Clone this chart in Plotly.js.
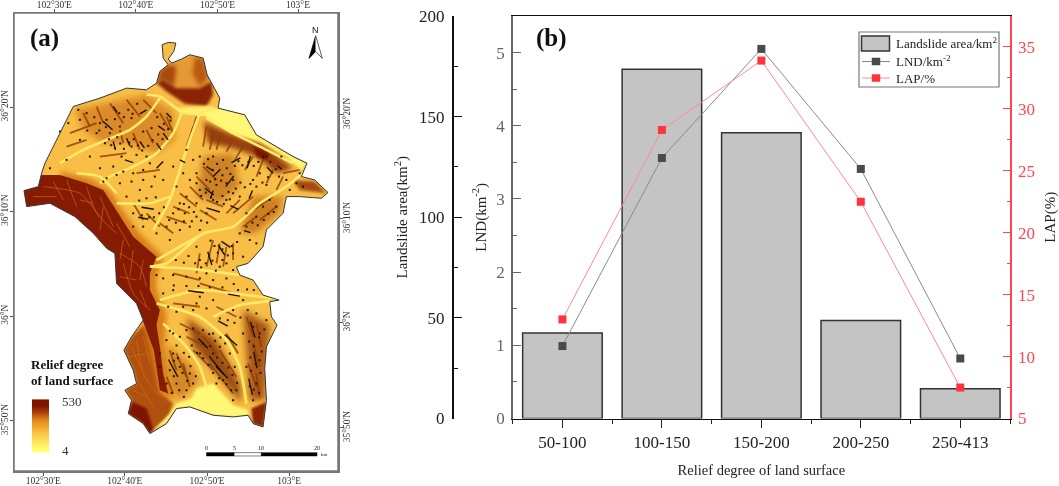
<!DOCTYPE html>
<html><head><meta charset="utf-8">
<script src="https://cdn.plot.ly/plotly-3.0.1.min.js"></script>
<style>html,body{margin:0;padding:0;background:#fff;overflow:hidden}#c{width:1059px;height:486px;filter:blur(0.35px)}</style>
</head><body><div id="c"></div>
<script>
// ---------- panel (b) data ----------
const categories=['50-100','100-150','150-200','200-250','250-413'];
const landslideArea=[42.5,173.5,142,48.7,14.8];
const lnd=[0.99,3.56,5.05,3.41,0.82];
const lap=[13.0,28.3,33.9,22.5,7.5];

// ---------- panel (a) map data, in projected map units (frame 42..1015 by 40..1412) ----------
const outline=[[487,135],[505,128],[528,130],[522,155],[505,178],[516,190],[545,178],[570,165],[610,175],[622,225],[640,258],[660,295],[655,325],[700,335],[735,345],[770,405],[830,440],[880,470],[922,490],[905,530],[945,540],[985,578],[965,595],[900,590],[860,590],[850,640],[800,690],[790,740],[745,790],[710,800],[720,825],[760,840],[790,885],[838,900],[810,905],[815,950],[832,975],[800,1040],[795,1105],[800,1200],[790,1280],[760,1270],[745,1245],[700,1250],[640,1245],[570,1220],[530,1225],[500,1270],[450,1300],[430,1270],[385,1240],[395,1200],[375,1170],[410,1150],[400,1110],[372,1050],[395,1010],[430,960],[410,910],[350,850],[345,760],[320,745],[280,700],[225,650],[150,610],[80,620],[72,572],[115,560],[125,520],[135,490],[180,400],[220,320],[300,295],[380,265],[440,270],[470,250],[480,215],[505,195],[490,175],[487,135]];
const outsideMask=[[42,40],[42,1190],[160,1190],[160,1412],[1015,1412],[1015,40],[42,40]];
const plainNE=[[600,338],[655,325],[700,335],[735,345],[770,405],[830,440],[880,470],[922,490],[905,510],[860,470],[780,425],[700,400],[640,365]];
const plainS=[[590,1165],[640,1150],[700,1215],[745,1230],[745,1245],[700,1250],[640,1245],[570,1220],[530,1225],[500,1270],[450,1300],[470,1280],[510,1240],[530,1210],[575,1195]];
const plainN=[[530,325],[625,318],[655,325],[600,345],[545,340]];
const scarpFringe=[[180,515],[270,535],[330,570],[375,640],[420,700],[490,770],[470,830],[470,870],[500,940],[495,1040],[510,1130],[525,1200],[480,1180],[440,1000],[400,900],[340,760],[200,600]];
const scarp=[[115,525],[180,525],[260,550],[310,570],[355,640],[400,710],[470,770],[450,820],[450,870],[480,930],[470,975],[480,1040],[490,1120],[505,1180],[480,1170],[462,1050],[430,965],[410,910],[350,850],[345,760],[320,745],[280,700],[225,650],[150,610],[80,620],[72,572],[115,560]];
const southwest=[[430,975],[462,1000],[480,1170],[520,1210],[500,1270],[450,1300],[430,1270],[385,1240],[395,1200],[375,1170],[410,1150],[400,1110],[372,1050],[395,1010]];
const southwestDark=[[385,1240],[398,1205],[440,1225],[462,1290],[450,1300],[430,1270]];
const southeastDark=[[755,1225],[800,1205],[790,1280],[760,1270]];
const summit=[[470,250],[490,240],[530,265],[600,265],[635,245],[640,285],[620,320],[555,312],[500,275]];
const summitTop=[[480,215],[505,195],[545,178],[570,165],[610,175],[622,225],[635,245],[600,265],[530,265],[490,240],[470,250]];
const summitLeft=[[470,250],[480,215],[505,195],[530,200],[522,262],[490,240]];
const summitRight=[[585,170],[612,178],[625,235],[600,262],[578,222]];
const ridgeNE=[[610,365],[700,405],[790,435],[880,505],[830,520],[770,470],[700,445],[625,430]];
const ridgeNE2=[[760,440],[810,460],[800,480],[770,470]];
const ridgeEast=[[880,540],[945,545],[980,580],[900,570]];
const ridgeCentre=[[610,470],[700,460],[720,560],[660,610],[590,590]];
const ridgeEast2=[[760,590],[850,590],[840,640],[770,700],[720,700]];
const ridgeSouth=[[560,950],[650,1020],[720,1150],[725,1210],[650,1120],[580,1040]];
const ridgeSE=[[730,930],[810,975],[795,1200],[750,1200],[740,1060]];
const ridgeNW=[[225,330],[440,285],[520,335],[525,420],[470,460],[380,430],[310,430],[250,390]];
const ridgeSW2=[[500,1030],[570,1090],[600,1140],[540,1200],[510,1160]];
const valleys=[
 [[600,340],[570,420],[540,510],[510,600],[460,690]],
 [[545,340],[520,400],[470,460],[400,500],[330,530],[300,550]],
 [[480,295],[440,350],[390,390],[320,420],[250,450],[180,490]],
 [[920,510],[860,560],[780,610],[700,680],[610,700],[550,750],[500,790],[450,800]],
 [[470,910],[600,950],[680,1020],[720,1100],[740,1210]],
 [[490,970],[560,1040],[600,1100],[620,1160]],
 [[480,900],[600,870],[700,880],[838,897]],
 [[640,950],[720,915],[810,903]],
 [[450,800],[560,805],[720,825]],
 [[610,345],[545,335],[480,290],[440,285]],
 [[350,610],[450,610],[510,590]],
 [[620,355],[700,400],[800,450],[880,490]],
 [[470,780],[610,700]],
 [[350,580],[300,530],[230,520]]
];
const scarpVeins=[[[130,560],[240,580],[300,650]],[[260,560],[290,640],[350,700]],[[200,540],[230,620]],[[360,760],[420,800],[440,860]],[[370,790],[400,880],[450,930]],[[410,1020],[430,1120],[470,1180]],[[385,1070],[440,1060]],[[300,590],[340,680]],[[100,590],[170,590]],[[160,545],[190,600]],[[240,600],[280,610]],[[310,620],[300,690]],[[350,670],[390,740]],[[370,720],[360,780]],[[400,750],[390,830]],[[430,780],[420,840]],[[360,830],[410,840]],[[420,870],[440,920]],[[395,1040],[420,1100]],[[430,1010],[450,1090]],[[420,1150],[460,1220]],[[400,1170],[440,1190]]];
const streaks=[[[250,340],[270,380]],[[290,320],[310,370]],[[330,310],[370,370]],[[380,300],[420,350]],[[430,300],[470,340]],[[360,390],[370,430]],[[400,400],[420,450]],[[440,390],[460,430]],[[480,340],[510,390]],[[500,350],[520,400]],[[580,380],[560,440]],[[590,350],[575,400]],[[620,380],[610,440]],[[640,400],[630,450]],[[660,410],[650,450]],[[700,420],[680,455]],[[730,440],[705,480]],[[760,470],[735,510]],[[790,480],[770,530]],[[820,510],[800,550]],[[850,530],[830,570]],[[610,500],[650,540]],[[590,530],[630,570]],[[570,560],[610,600]],[[540,580],[590,620]],[[520,620],[570,640]],[[500,650],[560,670]],[[480,670],[520,700]],[[620,600],[670,620]],[[600,630],[650,660]],[[680,640],[720,600]],[[700,640],[760,590]],[[760,630],[820,590]],[[780,660],[830,620]],[[730,680],[770,650]],[[640,720],[620,800]],[[660,730],[650,790]],[[680,740],[670,800]],[[700,730],[700,780]],[[600,760],[590,820]],[[520,820],[600,840]],[[600,850],[700,880]],[[520,910],[600,920]],[[650,920],[710,950]],[[540,970],[600,1000]],[[560,1010],[620,1040]],[[610,1010],[650,1060]],[[580,1050],[640,1110]],[[630,1090],[700,1180]],[[660,1050],[710,1130]],[[680,1000],[715,1060]],[[740,950],[760,1010]],[[770,970],[785,1040]],[[760,1030],[780,1100]],[[745,1090],[770,1160]],[[770,1120],[780,1190]],[[510,1050],[530,1110]],[[530,1060],[560,1130]],[[550,1090],[570,1160]],[[500,1130],[520,1180]],[[850,520],[900,510]],[[300,470],[380,460]],[[410,520],[480,510]],[[400,610],[430,660]],[[440,640],[480,680]],[[200,440],[260,420]],[[210,400],[290,370]]];
const strokes=[[[440,330],[420,342]],[[340,320],[352,338]],[[310,365],[338,390]],[[420,425],[434,445]],[[470,430],[484,450]],[[340,425],[347,450]],[[380,415],[390,438]],[[490,400],[505,420]],[[500,340],[515,355]],[[475,378],[495,392]],[[375,480],[400,488]],[[470,505],[490,485]],[[540,480],[556,488]],[[620,500],[642,514]],[[640,530],[662,508]],[[615,565],[642,585]],[[695,488],[722,474]],[[742,505],[752,468]],[[802,502],[820,520]],[[758,572],[748,596]],[[846,508],[834,498]],[[640,572],[632,596]],[[702,528],[678,560]],[[620,624],[660,636]],[[692,617],[716,628]],[[425,622],[462,628]],[[415,652],[445,658]],[[655,735],[675,765]],[[624,755],[636,795]],[[665,724],[692,742]],[[733,692],[752,698]],[[685,882],[720,888]],[[565,872],[612,878]],[[628,1068],[672,1122]],[[648,1098],[684,1134]],[[675,1004],[712,1036]],[[752,965],[766,1012]],[[762,1055],[772,1104]],[[747,1135],[758,1184]],[[506,1078],[534,1130]],[[655,962],[684,978]],[[596,1015],[624,1044]]];
const specks=[[235,330],[240,360],[260,340],[300,370],[320,360],[330,400],[360,380],[395,355],[430,395],[315,430],[345,445],[365,470],[395,440],[410,465],[440,470],[450,490],[430,510],[400,520],[370,515],[350,525],[320,535],[310,545],[360,550],[395,545],[430,540],[465,530],[420,570],[380,590],[455,560],[490,540],[520,500],[560,450],[580,480],[600,470],[550,520],[530,560],[570,540],[590,520],[600,570],[560,590],[540,610],[520,640],[555,640],[590,610],[620,640],[590,650],[400,640],[430,680],[470,700],[400,680],[500,680],[510,720],[540,690],[570,680],[600,690],[640,600],[680,600],[700,580],[720,590],[740,640],[770,650],[790,620],[810,600],[830,620],[720,700],[750,720],[770,730],[700,760],[730,770],[600,780],[590,740],[620,820],[660,800],[680,790],[700,810],[470,825],[490,835],[520,825],[560,830],[600,835],[640,840],[680,835],[520,870],[490,880],[550,920],[590,910],[640,900],[600,890],[700,930],[730,900],[770,940],[800,960],[780,1000],[520,1000],[540,1010],[560,990],[580,985],[610,990],[640,1000],[660,1040],[690,1060],[705,1100],[600,1060],[610,1030],[640,1060],[520,1060],[510,1110],[540,1100],[570,1120],[530,1150],[560,1170],[580,1150],[500,1150],[480,1100],[480,1060],[730,1000],[740,1100],[770,1150],[780,1080],[760,1200],[710,1170],[700,1200],[670,1140],[650,1150],[890,550],[910,560],[870,570],[900,520],[860,540],[800,555],[780,520],[760,540],[700,540],[680,550],[650,555],[620,540],[590,550],[640,470],[670,480],[800,470],[845,470],[150,505],[180,395],[205,370],[240,420],[290,400],[270,470],[200,480],[300,505],[340,500]];
const specksDense=[[327,418],[334,436],[352,412],[361,431],[372,447],[388,428],[402,418],[414,437],[427,452],[445,438],[458,421],[475,404],[488,418],[455,385],[472,352],[492,372],[505,388],[512,362],[385,330],[398,342],[412,312],[358,340],[372,352],[345,358],[318,382],[298,392],[262,392],[283,352],[612,492],[625,478],[638,510],[652,492],[668,526],[681,505],[692,522],[705,498],[716,484],[631,545],[646,538],[664,542],[604,588],[618,578],[634,592],[652,606],[668,588],[686,576],[728,496],[746,486],[762,498],[776,486],[790,472],[812,486],[828,508],[838,530],[805,532],[788,548],[770,560],[752,552],[735,562],[722,548],[708,566],[690,598],[672,612],[536,628],[552,612],[568,622],[582,636],[604,662],[622,668],[576,664],[552,664],[528,668],[508,660],[462,652],[478,640],[492,622],[448,652],[426,646],[418,602],[440,595],[468,592],[632,722],[644,738],[628,768],[618,790],[638,782],[654,758],[668,748],[684,766],[696,738],[712,726],[668,780],[648,812],[604,802],[586,790],[566,768],[552,788],[528,780],[740,680],[758,668],[774,676],[792,660],[806,642],[822,636],[628,1002],[646,1022],[662,1012],[676,1030],[632,1038],[652,1072],[668,1088],[686,1102],[698,1124],[712,1148],[626,1094],[640,1118],[658,1134],[680,1152],[694,1170],[610,1074],[592,1058],[576,1036],[748,1024],[762,1038],[778,1012],[786,1054],[752,1072],[768,1092],[782,1118],[754,1112],[762,1168],[778,1178],[750,1158],[522,1082],[534,1074],[548,1118],[562,1142],[522,1128],[538,1170],[552,1190],[516,1178],[572,1098],[588,1128],[530,1036],[552,1058],[568,1070],[500,1020],[510,992],[660,955],[684,960],[704,968],[722,952],[744,930],[760,980],[794,988],[715,870],[742,868],[762,870],[702,852],[668,862],[630,862],[596,858],[560,858],[522,856],[505,920],[530,935],[580,930],[620,925]];
const legendGradient=[4,100,200,300,400,530];
const scaleBarLabels=['0','5','10','20'];
const scaleBarStops=[620,703,785,952];
const lonLabels=["102°30'E","102°40'E","102°50'E","103°E"];
const latLabels=["36°20'N","36°10'N","36°N","35°50'N"];

const unz=(a,i)=>a.map(p=>p[i]);
const fillT=(pts,col,blur,extra={})=>Object.assign({type:'scatter',mode:'lines',x:unz(pts,0),y:unz(pts,1),fill:'toself',fillcolor:col,line:{width:0,color:col},xaxis:'x',yaxis:'y',showlegend:false,hoverinfo:'skip',meta:{blur:blur||0}},extra);
const lineSet=(sets,col,w,blur)=>{const x=[],y=[];sets.forEach(s=>{s.forEach(p=>{x.push(p[0]);y.push(p[1]);});x.push(null);y.push(null);});return {type:'scatter',mode:'lines',x,y,line:{color:col,width:w,shape:'spline',smoothing:0.6},xaxis:'x',yaxis:'y',showlegend:false,hoverinfo:'skip',meta:{blur:blur||0}};};
const dots=(pts,col,size)=>({type:'scatter',mode:'markers',x:unz(pts,0),y:unz(pts,1),marker:{color:col,size,symbol:'square'},xaxis:'x',yaxis:'y',showlegend:false,hoverinfo:'skip',meta:{blur:0}});

const serif='"Liberation Serif","Times New Roman",serif';
const maskPts=[...outsideMask,[null,null],...outline];
const mapScatter=[
 fillT(outline,'#F8BE46'),
 fillT(ridgeNW,'rgba(200,105,18,0.6)',3),
 fillT(ridgeCentre,'rgba(170,80,10,0.55)',3),
 fillT(ridgeEast2,'rgba(180,85,12,0.6)',3),
 fillT(ridgeSouth,'rgba(140,55,8,0.85)',3),
 fillT(ridgeSE,'rgba(150,60,10,0.8)',3),
 fillT(ridgeSW2,'rgba(190,100,18,0.6)',3),
 fillT(ridgeNE,'rgba(140,50,8,0.9)',2.5),
 fillT(ridgeNE2,'#7E1400',1.5),
 fillT(ridgeEast,'rgba(150,55,8,0.85)',1.5),
 fillT(summitTop,'#E59A35',1.5),
 fillT(summitLeft,'#A8480C',2),
 fillT(summitRight,'#B85A12',2),
 fillT(summit,'#8A2406',1.5),
 fillT(southwest,'#B0500E',1.5),
 fillT(southwestDark,'#7E1400',1.2),
 fillT(southeastDark,'#8A2406',1.2),
 fillT(scarpFringe,'#D9801A',2.5),
 fillT(scarp,'#861B03',0.6),
 lineSet(scarpVeins,'rgba(220,110,30,0.6)',1,0.4),
 lineSet(streaks,'rgba(140,60,8,0.8)',1.8,0.6),
 lineSet(valleys,'#FFE96A',2.6,0.6),
 fillT(plainNE,'#FFF876',1),
 fillT(plainS,'#FFF876',1.2),
 fillT(plainN,'#FFF06E',1.5),
 fillT(maskPts,'#fff',0),
 lineSet(strokes,'#1a1208',1.4,0.3),
 dots(specks,'#231808',2),
 dots(specksDense,'#231808',2),
 {type:'scatter',mode:'lines',x:unz(outline,0),y:unz(outline,1),line:{color:'#333',width:1},xaxis:'x',yaxis:'y',showlegend:false,hoverinfo:'skip',meta:{blur:0}},
 fillT([[948,108],[928,176],[948,155]],'#000',0,{line:{color:'#000',width:0.8}}),
 fillT([[948,108],[968,176],[948,155]],'#fff',0,{line:{color:'#333',width:0.8}})
];
const traces=[
 {type:'heatmap',z:legendGradient.map(v=>[v,v]),x:[109,135],y:[1344,1317,1291,1264,1238,1211],colorscale:[[0,'#FFFF70'],[0.35,'#F9C040'],[0.6,'#E08A18'],[0.8,'#A83C08'],[1,'#7E1400']],zsmooth:'best',showscale:false,xaxis:'x',yaxis:'y',hoverinfo:'skip'},
 ...mapScatter,
 {type:'scatter',mode:'markers',x:[null],y:[null],xaxis:'x2',yaxis:'y2',showlegend:false,hoverinfo:'skip'},
 {type:'bar',name:'Landslide area/km<sup>2</sup>',x:categories,y:landslideArea,width:0.8,marker:{color:'#C4C4C4',line:{color:'#333',width:1.5}},xaxis:'x3',yaxis:'y3'},
 {type:'scatter',mode:'lines+markers',name:'LND/km<sup>-2</sup>',x:categories,y:lnd,line:{color:'#8a8a8a',width:1},marker:{color:'#4a4a4a',size:8,symbol:'square'},xaxis:'x3',yaxis:'y4',cliponaxis:false},
 {type:'scatter',mode:'lines+markers',name:'LAP/%',x:categories,y:lap,line:{color:'#FF8A90',width:1},marker:{color:'#FF3340',size:8,symbol:'square'},xaxis:'x3',yaxis:'y5',cliponaxis:false}
];

const W=1059,H=486;
const dx=(a,b)=>[a/W,b/W], dy=(top,bot)=>[1-bot/H,1-top/H];
const mapTick={family:serif,size:9.5,color:'#333'};
const frame={showline:true,linecolor:'#777',linewidth:1.5,ticks:'outside',ticklen:3,tickcolor:'#555',showgrid:false,zeroline:false,tickfont:mapTick};
const chartFont=c=>({family:serif,size:17,color:c});
const ann=(text,x,y,size,extra={})=>Object.assign({text,x,y,xref:'x',yref:'y',showarrow:false,font:{family:serif,size,color:'#111'},xanchor:'left',yanchor:'middle'},extra);
const legText=(text,y)=>({text,x:894/W,y:1-y/H,xref:'paper',yref:'paper',showarrow:false,xanchor:'left',yanchor:'middle',font:{family:serif,size:13,color:'#222'}});
const pLine=(x0,y0,x1,y1,color,width)=>({type:'line',xref:'paper',yref:'paper',x0:x0/W,x1:x1/W,y0:1-y0/H,y1:1-y1/H,line:{color,width}});
const pRect=(x0,y0,x1,y1,fill,color,width)=>({type:'rect',xref:'paper',yref:'paper',x0:x0/W,x1:x1/W,y0:1-y0/H,y1:1-y1/H,fillcolor:fill,line:{color,width}});
const layout={
 width:W,height:H,margin:{l:0,r:0,t:0,b:0},paper_bgcolor:'#fff',plot_bgcolor:'rgba(0,0,0,0)',font:{family:serif},
 barmode:'overlay',showlegend:false,
 xaxis:Object.assign({},frame,{domain:dx(14,338),range:[42,1015],side:'bottom',anchor:'y',tickmode:'array',tickvals:[130,375,622,868],ticktext:lonLabels,ticklabelstandoff:-3}),
 xaxis2:Object.assign({},frame,{domain:dx(14,338),range:[42,1015],side:'top',anchor:'y2',overlaying:'x',tickmode:'array',tickvals:[163,408,653,895],ticktext:lonLabels,ticklabelstandoff:-3}),
 yaxis:Object.assign({},frame,{domain:dy(13,471),range:[1412,40],side:'left',anchor:'x',tickmode:'array',tickvals:[322,635,948,1262],ticktext:latLabels,tickangle:-90,ticklabelstandoff:-2}),
 yaxis2:Object.assign({},frame,{domain:dy(13,471),range:[1412,40],side:'right',anchor:'x2',overlaying:'y',tickmode:'array',tickvals:[345,657,968,1283],ticktext:latLabels,tickangle:-90,ticklabelstandoff:-4}),
 xaxis3:{domain:dx(512.7,1010),anchor:'y4',type:'category',categoryorder:'array',categoryarray:categories,range:[-0.5,4.5],showline:true,linecolor:'#111',linewidth:1.5,mirror:true,ticks:'outside',ticklen:8,tickcolor:'#222',tickfont:chartFont('#222'),showgrid:false,zeroline:false,
   minor:{ticks:'outside',ticklen:4,tickcolor:'#222',tickvals:[-0.5,0.5,1.5,2.5,3.5,4.5]},
   title:{text:'Relief degree of land surface',font:{family:serif,size:14.5,color:'#222'},standoff:13}},
 yaxis3:{domain:dy(16,418.5),anchor:'free',position:452/W,side:'left',range:[0,200],tickvals:[0,50,100,150,200],showline:true,linecolor:'#111',linewidth:1.5,ticks:'inside',ticklen:8,tickcolor:'#111',tickfont:chartFont('#222'),ticklabelstandoff:4,showgrid:false,zeroline:false,
   minor:{ticks:'inside',ticklen:4,tickcolor:'#111',tickvals:[25,75,125,175]},
   title:{text:'Landslide area(km<sup>2</sup>)',font:{family:serif,size:15,color:'#222'},standoff:6}},
 yaxis4:{domain:dy(16,418.5),anchor:'x3',overlaying:'y3',side:'left',range:[0,5.5],tickvals:[0,1,2,3,4,5],showline:true,linecolor:'#666',linewidth:1.5,ticks:'inside',ticklen:8,tickcolor:'#666',tickfont:chartFont('#666'),ticklabelstandoff:3,showgrid:false,zeroline:false,
   minor:{ticks:'inside',ticklen:4,tickcolor:'#666',tickvals:[0.5,1.5,2.5,3.5,4.5]},
   title:{text:'LND(km<sup>-2</sup>)',font:{family:serif,size:15,color:'#222'},standoff:6}},
 yaxis5:{domain:dy(16,418.5),anchor:'x3',overlaying:'y3',side:'right',range:[5,37.5],tickvals:[5,10,15,20,25,30,35],showline:true,linecolor:'#FF4650',linewidth:1.5,ticks:'inside',ticklen:7,tickcolor:'#FF4650',tickfont:chartFont('#FF4650'),ticklabelstandoff:3,showgrid:false,zeroline:false,
   minor:{ticks:'inside',ticklen:3,tickcolor:'#FF4650',tickvals:[7.5,12.5,17.5,22.5,27.5,32.5,37.5]},
   title:{text:'LAP(%)',font:{family:serif,size:15,color:'#222'},standoff:12}},
 shapes:[
  pRect(14,13,338,471,'rgba(0,0,0,0)','#777',1.5),
  {type:'rect',xref:'x',yref:'y',x0:scaleBarStops[0],x1:scaleBarStops[1],y0:1357,y1:1367,fillcolor:'#000',line:{color:'#000',width:0.5}},
  {type:'rect',xref:'x',yref:'y',x0:scaleBarStops[1],x1:scaleBarStops[2],y0:1357,y1:1367,fillcolor:'#fff',line:{color:'#000',width:0.5}},
  {type:'rect',xref:'x',yref:'y',x0:scaleBarStops[2],x1:scaleBarStops[3],y0:1357,y1:1367,fillcolor:'#000',line:{color:'#000',width:0.5}},
  pRect(859,32,999,87,'#fff','#777',1.2),
  pRect(861.5,36,889.5,51,'#C4C4C4','#333',1.5),
  pLine(862,61.5,890,61.5,'#8a8a8a',1),
  pRect(872,58,880,65,'#4a4a4a','#4a4a4a',0.5),
  pLine(862,78,890,78,'#FF8A90',1),
  pRect(872,74.5,880,81.5,'#FF3340','#FF3340',0.5)
 ],
 annotations:[
  ann('<b>(a)</b>',85,115,25),
  ann('N',948,92,9,{xanchor:'center',font:{family:'"Liberation Sans",sans-serif',size:9,color:'#111'}}),
  ann('<b>Relief degree</b>',88,1093,13),
  ann('<b>of land surface</b>',88,1140,13),
  ann('530',180,1205,13,{font:{family:serif,size:13,color:'#333'}}),
  ann('4',180,1350,13,{font:{family:serif,size:13,color:'#333'}}),
  ...scaleBarLabels.map((t,i)=>ann(t,scaleBarStops[i],1342,6,{xanchor:'center'})),
  ann('km',958,1363,5),
  {text:'<b>(b)</b>',x:551/W,y:1-38/H,xref:'paper',yref:'paper',showarrow:false,xanchor:'center',yanchor:'middle',font:{family:serif,size:25,color:'#111'}},
  legText('Landslide area/km<sup>2</sup>',43),
  legText('LND/km<sup>-2</sup>',61),
  legText('LAP/%',78)
 ]
};
Plotly.newPlot('c',traces,layout,{staticPlot:true,displayModeBar:false}).then(()=>{
  const groups=document.querySelectorAll('.subplot.xy .scatterlayer .trace');
  mapScatter.forEach((t,i)=>{ if(groups[i]&&t.meta&&t.meta.blur) groups[i].style.filter='blur('+t.meta.blur+'px)'; });
});
</script></body></html>
